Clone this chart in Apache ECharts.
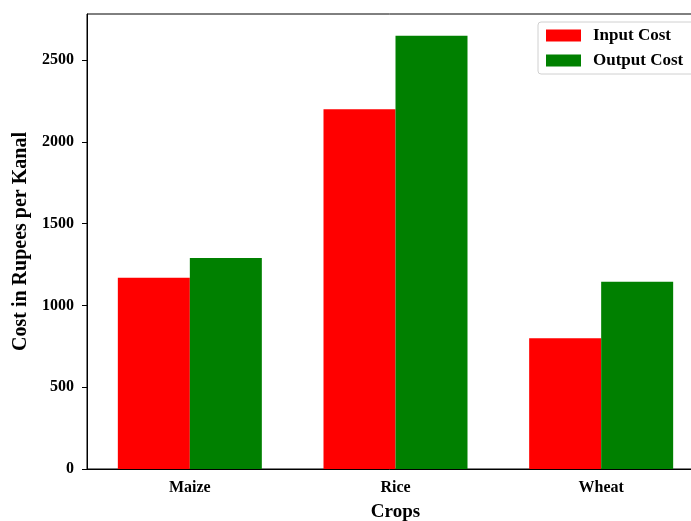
<!DOCTYPE html>
<html lang="en">
<head>
	<meta charset="UTF-8">
	<title>Crop costs</title>
	<script src="https://cdn.jsdelivr.net/npm/echarts@6/dist/echarts.min.js"></script>
</head>
<body style="margin:0;">
	<div id="main" style="width:691px;height:521px;"></div>
	<script type="text/javascript">
        var crops = ['Maize', 'Rice', 'Wheat'];
        var inputCost = [1170, 2200, 800];
        var outputCost = [1290, 2650, 1145];
        var yTicks = [0, 500, 1000, 1500, 2000, 2500];

        var font = '"Liberation Serif", "Times New Roman", serif';
        var myChart = echarts.init(document.getElementById('main'));
        myChart.setOption({
            animation: false,
            textStyle: { fontFamily: font },
            grid: {
                left: 87, top: 14, width: 617, height: 455,
                outerBoundsMode: 'none',
                containLabel: false,
                show: true, borderColor: '#000', borderWidth: 1
            },
            legend: {
                data: ['Input Cost', 'Output Cost'],
                orient: 'vertical',
                left: 538, top: 22,
                icon: 'rect',
                itemWidth: 35, itemHeight: 12, itemGap: 8,
                padding: [5, 30, 5, 8],
                borderColor: '#d0d0d0', borderWidth: 1, borderRadius: 3,
                textStyle: { fontFamily: font, fontWeight: 'bold', fontSize: 17, color: '#000', padding: [0, 0, 0, 7] }
            },
            xAxis: {
                type: 'category',
                data: crops,
                name: 'Crops',
                nameLocation: 'middle',
                nameGap: 34,
                nameTextStyle: { fontFamily: font, fontWeight: 'bold', fontSize: 19, color: '#000' },
                axisLine: { lineStyle: { color: '#000' } },
                axisTick: { alignWithLabel: true, length: 5, lineStyle: { color: '#000' } },
                axisLabel: { fontFamily: font, fontWeight: 'bold', fontSize: 16, color: '#000', margin: 11 }
            },
            yAxis: {
                type: 'value',
                min: 0, max: 2782.5, interval: 500,
                name: 'Cost in Rupees per Kanal',
                nameLocation: 'middle',
                nameGap: 55,
                nameTextStyle: { fontFamily: font, fontWeight: 'bold', fontSize: 20, color: '#000' },
                splitLine: { show: false },
                axisLine: { show: true, lineStyle: { color: '#000' } },
                axisTick: { show: true, length: 5, lineStyle: { color: '#000' } },
                axisLabel: {
                    fontFamily: font, fontWeight: 'bold', fontSize: 16, color: '#000', margin: 13,
                    showMaxLabel: false,
                    formatter: function (v) { return yTicks.indexOf(v) >= 0 ? String(v) : ''; }
                }
            },
            series: [{
                name: 'Input Cost',
                type: 'bar',
                data: inputCost,
                barWidth: 72,
                barGap: '0%',
                itemStyle: { color: '#ff0000' }
            }, {
                name: 'Output Cost',
                type: 'bar',
                data: outputCost,
                barWidth: 72,
                itemStyle: { color: '#008000' }
            }]
        });
    </script>
</body>
</html>
